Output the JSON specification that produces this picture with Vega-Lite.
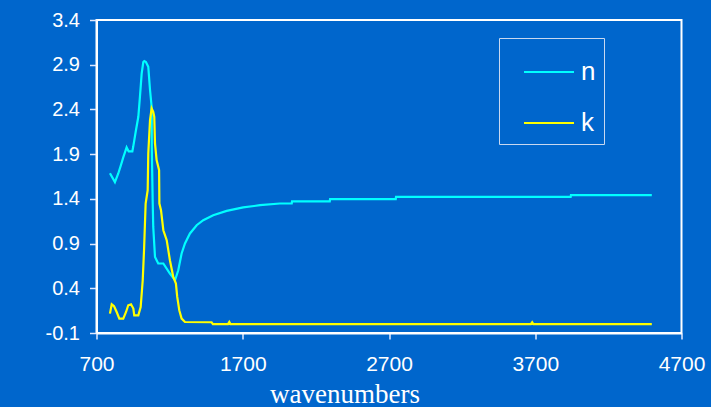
{
  "$schema": "https://vega.github.io/schema/vega-lite/v6.json",
  "width": 585,
  "height": 313,
  "autosize": {"type": "none"},
  "padding": {"left": 96.5, "top": 20, "right": 29.5, "bottom": 74},
  "background": "#0066CC",
  "config": {
    "view": {"stroke": "#FFFFFF", "strokeWidth": 2, "fill": "#0066CC"},
    "axis": {"grid": false, "labelColor": "#FFFFFF", "labelFont": "Liberation Sans", "domainColor": "#FFFFFF", "domainWidth": 2, "tickColor": "#E0E8FF", "tickWidth": 1.5, "labelOverlap": false, "labelFlush": false}
  },
  "data": {"values": [
    {"wn": 792, "v": 1.687, "s": "n"},
    {"wn": 826, "v": 1.587, "s": "n"},
    {"wn": 849, "v": 1.684, "s": "n"},
    {"wn": 867, "v": 1.777, "s": "n"},
    {"wn": 883, "v": 1.863, "s": "n"},
    {"wn": 906, "v": 1.975, "s": "n"},
    {"wn": 920, "v": 1.93, "s": "n"},
    {"wn": 945, "v": 1.93, "s": "n"},
    {"wn": 951, "v": 1.982, "s": "n"},
    {"wn": 968, "v": 2.15, "s": "n"},
    {"wn": 986, "v": 2.318, "s": "n"},
    {"wn": 997, "v": 2.541, "s": "n"},
    {"wn": 1009, "v": 2.803, "s": "n"},
    {"wn": 1020, "v": 2.93, "s": "n"},
    {"wn": 1027, "v": 2.94, "s": "n"},
    {"wn": 1038, "v": 2.93, "s": "n"},
    {"wn": 1054, "v": 2.877, "s": "n"},
    {"wn": 1066, "v": 2.617, "s": "n"},
    {"wn": 1077, "v": 2.43, "s": "n"},
    {"wn": 1078, "v": 1.98, "s": "n"},
    {"wn": 1084, "v": 1.385, "s": "n"},
    {"wn": 1088, "v": 1.086, "s": "n"},
    {"wn": 1100, "v": 0.751, "s": "n"},
    {"wn": 1122, "v": 0.677, "s": "n"},
    {"wn": 1157, "v": 0.677, "s": "n"},
    {"wn": 1202, "v": 0.565, "s": "n"},
    {"wn": 1237, "v": 0.49, "s": "n"},
    {"wn": 1259, "v": 0.602, "s": "n"},
    {"wn": 1282, "v": 0.789, "s": "n"},
    {"wn": 1305, "v": 0.901, "s": "n"},
    {"wn": 1339, "v": 1.013, "s": "n"},
    {"wn": 1385, "v": 1.105, "s": "n"},
    {"wn": 1430, "v": 1.161, "s": "n"},
    {"wn": 1498, "v": 1.217, "s": "n"},
    {"wn": 1590, "v": 1.265, "s": "n"},
    {"wn": 1703, "v": 1.304, "s": "n"},
    {"wn": 1818, "v": 1.329, "s": "n"},
    {"wn": 1954, "v": 1.348, "s": "n"},
    {"wn": 2035, "v": 1.348, "s": "n"},
    {"wn": 2037, "v": 1.371, "s": "n"},
    {"wn": 2295, "v": 1.371, "s": "n"},
    {"wn": 2297, "v": 1.396, "s": "n"},
    {"wn": 2746, "v": 1.396, "s": "n"},
    {"wn": 2748, "v": 1.422, "s": "n"},
    {"wn": 3942, "v": 1.422, "s": "n"},
    {"wn": 3944, "v": 1.441, "s": "n"},
    {"wn": 4497, "v": 1.441, "s": "n"},
    {"wn": 792, "v": 0.117, "s": "k"},
    {"wn": 804, "v": 0.221, "s": "k"},
    {"wn": 820, "v": 0.199, "s": "k"},
    {"wn": 838, "v": 0.135, "s": "k"},
    {"wn": 856, "v": 0.061, "s": "k"},
    {"wn": 883, "v": 0.061, "s": "k"},
    {"wn": 902, "v": 0.135, "s": "k"},
    {"wn": 917, "v": 0.21, "s": "k"},
    {"wn": 936, "v": 0.221, "s": "k"},
    {"wn": 952, "v": 0.173, "s": "k"},
    {"wn": 958, "v": 0.098, "s": "k"},
    {"wn": 986, "v": 0.098, "s": "k"},
    {"wn": 1002, "v": 0.191, "s": "k"},
    {"wn": 1016, "v": 0.49, "s": "k"},
    {"wn": 1025, "v": 0.826, "s": "k"},
    {"wn": 1036, "v": 1.348, "s": "k"},
    {"wn": 1050, "v": 1.497, "s": "k"},
    {"wn": 1054, "v": 1.908, "s": "k"},
    {"wn": 1066, "v": 2.281, "s": "k"},
    {"wn": 1077, "v": 2.412, "s": "k"},
    {"wn": 1088, "v": 2.374, "s": "k"},
    {"wn": 1095, "v": 2.318, "s": "k"},
    {"wn": 1100, "v": 2.02, "s": "k"},
    {"wn": 1111, "v": 1.833, "s": "k"},
    {"wn": 1128, "v": 1.721, "s": "k"},
    {"wn": 1130, "v": 1.348, "s": "k"},
    {"wn": 1141, "v": 1.273, "s": "k"},
    {"wn": 1157, "v": 1.049, "s": "k"},
    {"wn": 1180, "v": 0.938, "s": "k"},
    {"wn": 1202, "v": 0.714, "s": "k"},
    {"wn": 1225, "v": 0.527, "s": "k"},
    {"wn": 1243, "v": 0.453, "s": "k"},
    {"wn": 1252, "v": 0.303, "s": "k"},
    {"wn": 1266, "v": 0.154, "s": "k"},
    {"wn": 1282, "v": 0.061, "s": "k"},
    {"wn": 1305, "v": 0.023, "s": "k"},
    {"wn": 1487, "v": 0.02, "s": "k"},
    {"wn": 1496, "v": 0.0, "s": "k"},
    {"wn": 1599, "v": 0.0, "s": "k"},
    {"wn": 1608, "v": 0.023, "s": "k"},
    {"wn": 1616, "v": 0.0, "s": "k"},
    {"wn": 3670, "v": 0.0, "s": "k"},
    {"wn": 3679, "v": 0.02, "s": "k"},
    {"wn": 3687, "v": 0.0, "s": "k"},
    {"wn": 4497, "v": 0.0, "s": "k"}
  ]},
  "mark": {"type": "line", "strokeWidth": 2.2},
  "encoding": {
    "x": {
      "field": "wn", "type": "quantitative",
      "scale": {"domain": [700, 4700], "nice": false, "zero": false},
      "axis": {"values": [700, 1700, 2700, 3700, 4700], "format": "d", "labelFontSize": 21, "tickSize": 6, "labelPadding": 14,
        "title": "wavenumbers", "titleFont": "Liberation Serif", "titleFontSize": 27, "titleFontWeight": "normal", "titleColor": "#FFFFFF",
        "titleX": 248, "titleY": 69, "titleAlign": "center", "titleBaseline": "alphabetic"}
    },
    "y": {
      "field": "v", "type": "quantitative",
      "scale": {"domain": [-0.1, 3.4], "nice": false, "zero": false},
      "axis": {"values": [-0.1, 0.4, 0.9, 1.4, 1.9, 2.4, 2.9, 3.4], "format": ".1f", "labelExpr": "replace(datum.label, '\u2212', '-')", "labelFontSize": 20, "tickSize": 7, "labelPadding": 10, "title": null}
    },
    "color": {
      "field": "s", "type": "nominal",
      "scale": {"domain": ["n", "k"], "range": ["#00FFFF", "#FFFF00"]},
      "legend": {"title": null, "orient": "none", "legendX": 402.5, "legendY": 18, "padding": 8,
        "strokeColor": "#C8D8F0", "symbolType": "stroke", "symbolSize": 2500, "symbolStrokeWidth": 2,
        "symbolOffset": 16, "labelOffset": 6, "labelFontSize": 26, "labelColor": "#FFFFFF", "labelFont": "Liberation Sans",
        "rowPadding": 12}
    }
  }
}
